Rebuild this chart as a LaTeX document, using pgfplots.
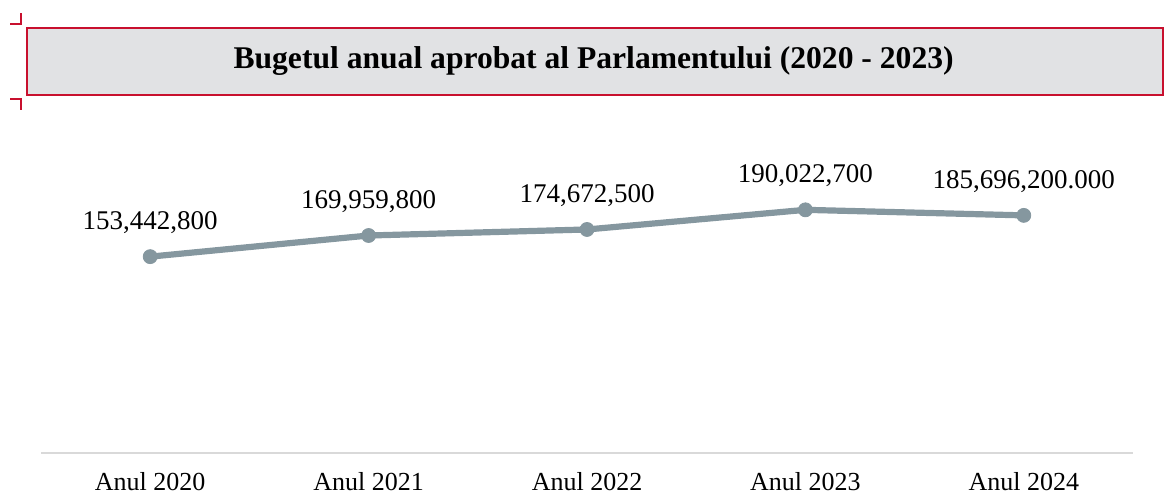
\documentclass[border=0pt]{standalone}
\usepackage{pgfplots}
\pgfplotsset{compat=1.18}
\usepackage{pgfplotstable}
\usepackage{fontspec}
\setmainfont{Liberation Serif}
\definecolor{linegray}{HTML}{85979F}
\definecolor{boxred}{HTML}{C8102E}
\definecolor{boxfill}{HTML}{E1E2E4}
\definecolor{axisgray}{HTML}{D9D9D9}
\pgfplotstableread{
x y label
0 153442800 153,442,800
1 169959800 169,959,800
2 174672500 174,672,500
3 190022700 190,022,700
4 185696200 185,696,200.000
}\budget

\begin{document}
\begin{tikzpicture}
\path[use as bounding box] (0,0) rectangle (583.5pt,247.5pt);
\draw[boxred, line width=0.75pt, fill=boxfill] (13.5pt,200pt) rectangle (581.5pt,233.5pt);
\node[font=\fontsize{15.8}{19}\selectfont\bfseries] at (296.8pt,216.75pt) {Bugetul anual aprobat al Parlamentului (2020 - 2023)};
\draw[boxred, line width=0.75pt] (5pt,235.5pt) -- (10.5pt,235.5pt) -- (10.5pt,241pt);
\draw[boxred, line width=0.75pt] (5pt,198pt) -- (10.5pt,198pt) -- (10.5pt,192.5pt);
\begin{axis}[
  at={(20.5pt,21pt)}, anchor=south west,
  scale only axis, width=546pt, height=160.6pt,
  xmin=-0.5, xmax=4.5, ymin=0, ymax=251000000,
  axis x line=bottom, axis y line=none,
  x axis line style={draw=axisgray, line width=1pt, -},
  xtick={0,1,2,3,4},
  xticklabels={Anul 2020, Anul 2021, Anul 2022, Anul 2023, Anul 2024},
  major tick length=0pt,
  xticklabel style={font=\fontsize{13}{15}\selectfont, anchor=center, inner sep=0pt, yshift=-14.5pt},
  clip=false,
  nodes near coords,
  point meta=explicit symbolic,
  every node near coord/.append style={font=\fontsize{13.5}{16}\selectfont, anchor=center, yshift=17pt, text=black},
]
\addplot[color=linegray, line width=3.1pt, mark=*, mark size=3.5pt,
  mark options={solid, fill=linegray, draw=linegray, line width=0.4pt}]
  table[x=x, y=y, meta=label] {\budget};
\end{axis}
\end{tikzpicture}
\end{document}
